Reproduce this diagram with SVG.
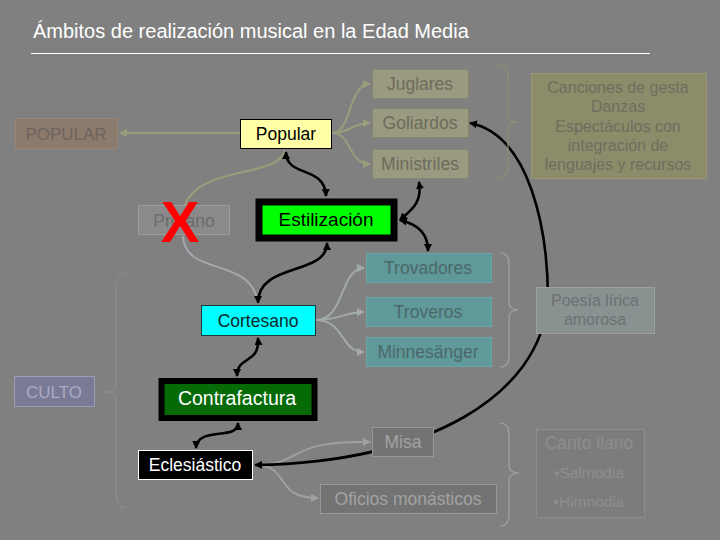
<svg xmlns="http://www.w3.org/2000/svg" width="720" height="540" viewBox="0 0 720 540">
<style>
text{font-family:"Liberation Sans",Arial,sans-serif;text-anchor:middle}
.lbl{font-size:17.5px}
.olive rect{fill:#9a9a80;stroke:#86866c;stroke-width:1}
.olive text{fill:#6c6c5c}
.teal rect{fill:#5f9999;stroke:#6aa6a6;stroke-width:1}
.teal text{fill:#4c6868}
.gbox rect{fill:#737373;stroke:#989898;stroke-width:1}
.gbox text{fill:#a2a2a2}
.bk{fill:none;stroke:#000;stroke-width:2.6;marker-start:url(#ab);marker-end:url(#ab)}
.lo{fill:none;stroke:#9a9c7c;stroke-width:2;marker-end:url(#ao)}
.lb{fill:none;stroke:#a2a8ae;stroke-width:2}
.lt{fill:none;stroke:#a2aaaa;stroke-width:2;marker-end:url(#at)}
.lg{fill:none;stroke:#a0a0a0;stroke-width:2;marker-end:url(#ag)}
.brace{fill:none;stroke-width:1.2}
</style>
<defs>
<marker id="ab" markerUnits="userSpaceOnUse" markerWidth="9" markerHeight="9" refX="7" refY="4" orient="auto-start-reverse"><path d="M0,0 L8,4 L0,8 z" fill="#000"/></marker>
<marker id="ao" markerUnits="userSpaceOnUse" markerWidth="9" markerHeight="9" refX="7" refY="4" orient="auto"><path d="M0,0 L8,4 L0,8 z" fill="#9a9c7c"/></marker>
<marker id="at" markerUnits="userSpaceOnUse" markerWidth="9" markerHeight="9" refX="7" refY="4" orient="auto"><path d="M0,0 L8,4 L0,8 z" fill="#a2aaaa"/></marker>
<marker id="ag" markerUnits="userSpaceOnUse" markerWidth="9" markerHeight="9" refX="7" refY="4" orient="auto"><path d="M0,0 L8,4 L0,8 z" fill="#a0a0a0"/></marker>
</defs>
<rect x="0" y="0" width="720" height="540" fill="#808080"/>
<g id="title">
<text x="33" y="38" style="text-anchor:start;font-size:20px" fill="#ffffff">Ámbitos de realización musical en la Edad Media</text>
<line x1="31" y1="53.5" x2="650" y2="53.5" stroke="#ffffff" stroke-width="1"/>
</g>
<g id="connectors">
<path class="lo" d="M240,133 L120,133"/>
<path class="lo" d="M332,133 C352,133 348,84 370,84"/>
<path class="lo" d="M332,133 C350,133 352,123 370,123"/>
<path class="lo" d="M332,133 C352,133 348,164 370,164"/>
<path class="lo" style="marker-end:none" d="M285,150 C280,178 200,165 185,205"/>
<path class="lb" d="M183,236 C185,278 252,255 258,304"/>
<path class="lt" d="M316,320 C345,320 340,268 364,268"/>
<path class="lt" d="M316,320 C340,320 345,312 364,312"/>
<path class="lt" d="M316,320 C345,320 340,352 364,352"/>
<path class="lg" d="M254,465 C305,465 285,440 370,442"/>
<path class="lg" d="M254,465 C292,465 272,498 318,498"/>
<path class="bk" d="M286,152 C286,178 325,165 326,196"/>
<path class="bk" d="M419,182 C423,205 408,212 400,220"/>
<path class="bk" d="M400,220 C420,225 428,235 428,251"/>
<path class="bk" d="M327,243 C327,276 258,262 258,303"/>
<path class="bk" d="M258,338 C260,365 237,355 237,376"/>
<path class="bk" d="M238,423 C238,441 197,426 196,448"/>
<path class="bk" d="M470,123 C530,135 548,230 548,300 C540,395 430,462 255,465"/>
<path class="brace" stroke="#8e8e76" d="M497,65 Q508,65 508,76 L508,114 Q508,122 518,122 Q508,122 508,130 L508,167 Q508,178 497,178"/>
<path class="brace" stroke="#a2a2a2" d="M500,253 Q509,253 509,264 L509,302 Q509,310 518,310 Q509,310 509,318 L509,356 Q509,367 500,367"/>
<path class="brace" stroke="#a2a2a2" d="M500,423 Q509,423 509,434 L509,465 Q509,473 519,473 Q509,473 509,481 L509,515 Q509,526 500,526"/>
<path class="brace" stroke="#8c8c8c" d="M126,273 Q116,273 116,290 L116,384 Q116,392 104,392 Q116,392 116,400 L116,491 Q116,508 126,508"/>
</g>
<g id="n-popular-top">
<rect x="15.5" y="118.5" width="102" height="30" fill="#8c7a6c" stroke="#9a8474"/>
<text x="66" y="140" style="font-size:17px" fill="#6e6460">POPULAR</text>
</g>
<g id="n-popular">
<rect x="240.5" y="119.5" width="91" height="29" fill="#ffffa8" stroke="#000"/>
<text class="lbl" x="286" y="140" fill="#000">Popular</text>
</g>
<g id="n-profano">
<rect x="138.5" y="205.5" width="91" height="29" fill="#8a8a8a" stroke="#9c9c9c"/>
<text class="lbl" x="184" y="227" fill="#6c6c6c">Profano</text>
<text x="180" y="242" style="font-size:58px;font-weight:bold" fill="#ff0000">X</text>
</g>
<g id="n-estilizacion">
<rect x="259" y="202" width="135" height="36" fill="#00ff00" stroke="#000" stroke-width="7"/>
<text x="326" y="226" style="font-size:19px" fill="#000">Estilización</text>
</g>
<g id="n-juglares" class="olive">
<rect x="372.5" y="69.5" width="96" height="29"/>
<text class="lbl" x="420" y="90">Juglares</text>
</g>
<g id="n-goliardos" class="olive">
<rect x="372.5" y="108.5" width="96" height="29"/>
<text class="lbl" x="420" y="129">Goliardos</text>
</g>
<g id="n-ministriles" class="olive">
<rect x="372.5" y="149.5" width="96" height="29"/>
<text class="lbl" x="420" y="170">Ministriles</text>
</g>
<g id="n-canciones">
<rect x="531.5" y="73.5" width="175" height="105" fill="#8c8c6a" stroke="#9a9a7a"/>
<g style="font-size:16px" fill="#6e6e5e">
<text x="618" y="93">Canciones de gesta</text>
<text x="618" y="112">Danzas</text>
<text x="618" y="132">Espectáculos con</text>
<text x="618" y="151">integración de</text>
<text x="618" y="170">lenguajes y recursos</text>
</g>
</g>
<g id="n-trovadores" class="teal">
<rect x="366.5" y="253.5" width="125" height="29"/>
<text class="lbl" x="428" y="274">Trovadores</text>
</g>
<g id="n-troveros" class="teal">
<rect x="366.5" y="297.5" width="125" height="29"/>
<text class="lbl" x="428" y="318">Troveros</text>
</g>
<g id="n-minnesanger" class="teal">
<rect x="366.5" y="337.5" width="125" height="29"/>
<text class="lbl" x="428" y="358">Minnesänger</text>
</g>
<g id="n-poesia">
<rect x="536.5" y="287.5" width="118" height="46" fill="#899191" stroke="#9aa2a2"/>
<text x="595" y="306" style="font-size:16px" fill="#6c7272">Poesía lírica</text>
<text x="595" y="325" style="font-size:16px" fill="#6c7272">amorosa</text>
</g>
<g id="n-cortesano">
<rect x="201.5" y="305.5" width="114" height="30" fill="#00ffff" stroke="#1a3a3a"/>
<text class="lbl" x="258" y="327" fill="#0f2a2a">Cortesano</text>
</g>
<g id="n-culto">
<rect x="14.5" y="376.5" width="80" height="30" fill="#7a7a96" stroke="#9c9cb2"/>
<text x="54" y="398" style="font-size:17px" fill="#aaaac2">CULTO</text>
</g>
<g id="n-contrafactura">
<rect x="161.5" y="381" width="153" height="37" fill="#066b06" stroke="#000" stroke-width="6"/>
<text x="237" y="405" style="font-size:19.5px" fill="#ffffff">Contrafactura</text>
</g>
<g id="n-eclesiastico">
<rect x="138.5" y="450.5" width="114" height="29" fill="#000" stroke="#fff"/>
<text class="lbl" x="195" y="471" fill="#fff">Eclesiástico</text>
</g>
<g id="n-misa" class="gbox">
<rect x="372.5" y="427.5" width="61" height="29"/>
<text class="lbl" x="403" y="448">Misa</text>
</g>
<g id="n-oficios" class="gbox">
<rect x="320.5" y="484.5" width="176" height="29"/>
<text class="lbl" x="408" y="505">Oficios monásticos</text>
</g>
<g id="n-canto">
<rect x="536.5" y="429.5" width="108" height="88" fill="#7c7c7c" stroke="#8e8e8e"/>
<text class="lbl" x="589" y="449" fill="#8e8e8e">Canto llano</text>
<text x="589" y="478" style="font-size:15.5px" fill="#8e8e8e">•Salmodia</text>
<text x="589" y="507" style="font-size:15.5px" fill="#8e8e8e">•Himnodia</text>
</g>
</svg>
